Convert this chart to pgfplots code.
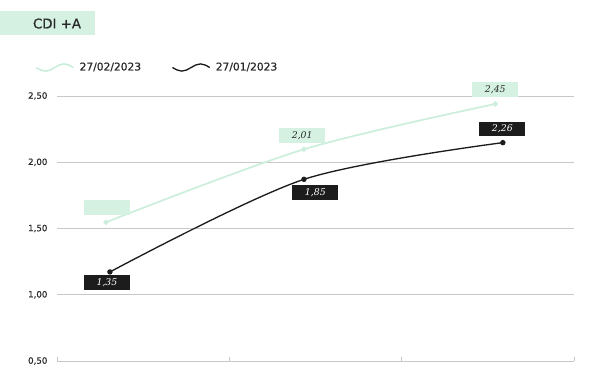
\documentclass[border=0pt]{standalone}
\usepackage{pgfplots}
\pgfplotsset{compat=1.18}
\usepackage{fontspec}
\setmainfont{DejaVu Sans}
\newfontfamily\semifont{DejaVu Sans}[FakeBold=0.7]
\newfontfamily\labfont{DejaVu Serif}
\definecolor{mint}{HTML}{D4F1E2}
\definecolor{mintline}{HTML}{CDEEDC}
\definecolor{ink}{HTML}{1C1C1C}
\definecolor{txt}{HTML}{2A2A2A}
\definecolor{gridc}{HTML}{C8C8C8}
\begin{document}
\begin{tikzpicture}
\useasboundingbox (0pt,0pt) rectangle (443.25pt,285.75pt);
\fill[mint] (0pt,259.5pt) rectangle (71.25pt,277.5pt);
\node[font=\semifont\fontsize{10}{12}\selectfont, text=txt, inner sep=0pt] at (42.75pt,268.1pt) {CDI +A};
\begin{axis}[
  at={(42.75pt,15pt)}, anchor=south west,
  scale only axis, width=387.75pt, height=198.75pt,
  xmin=0, xmax=3, ymin=0.5, ymax=2.5,
  axis x line*=bottom, axis y line*=left,
  x axis line style={draw=gridc, line width=0.6pt, -},
  y axis line style={draw=none},
  xtick={0,1,2,3}, xticklabels={},
  xtick style={draw=gridc, line width=0.6pt},
  tick align=inside, major tick length=3pt,
  ytick={0.5,1,1.5,2,2.5},
  ytick style={draw=none},
  ymajorgrids, grid style={draw=gridc, line width=0.6pt},
  yticklabel style={font=\semifont\fontsize{6.5}{8}\selectfont, text=txt, inner sep=0pt, xshift=-7pt,
     /pgf/number format/.cd, fixed, fixed zerofill, precision=2, use comma, assume math mode=true},
  clip=false,
  legend columns=2,
  legend image code/.code={\draw[#1] (0pt,0pt) sin (7pt,-2.7pt) cos (14pt,0pt) sin (21pt,2.7pt) cos (28pt,0pt);},
  legend style={at={(-0.0426,1.1075)}, anchor=west, draw=none, fill=none, inner sep=0pt,
     font=\semifont\fontsize{8}{10}\selectfont, text=txt,
     /tikz/every odd column/.append style={column sep=2pt},
     /tikz/every even column/.append style={column sep=21pt}},
]
\addplot[mintline, line width=1.3pt, smooth, mark=*, mark size=1.3pt, mark options={fill=mintline, draw=mintline}]
  coordinates {(0.284,1.547) (1.433,2.098) (2.544,2.440)};
\addlegendentry{27/02/2023}
\addplot[ink, line width=1pt, smooth, mark=*, mark size=1.5pt, mark options={fill=ink}]
  coordinates {(0.307,1.172) (1.433,1.871) (2.587,2.148)};
\addlegendentry{27/01/2023}
\tikzset{gbox/.style={fill=mint, text=txt, minimum width=34.5pt, minimum height=10.9pt, inner sep=0pt, font=\labfont\itshape\fontsize{7}{8}\selectfont},
         bbox/.style={fill=ink, text=white, minimum width=34.5pt, minimum height=10.9pt, inner sep=0pt, font=\labfont\itshape\fontsize{7}{8}\selectfont}}
\node[gbox] at (axis cs:0.290,1.660) {};
\node[gbox] at (axis cs:1.423,2.203) {2,01};
\node[gbox] at (axis cs:2.543,2.551) {2,45};
\node[bbox] at (axis cs:0.290,1.092) {1,35};
\node[bbox] at (axis cs:1.499,1.773) {1,85};
\node[bbox] at (axis cs:2.584,2.251) {2,26};
\end{axis}
\end{tikzpicture}
\end{document}
